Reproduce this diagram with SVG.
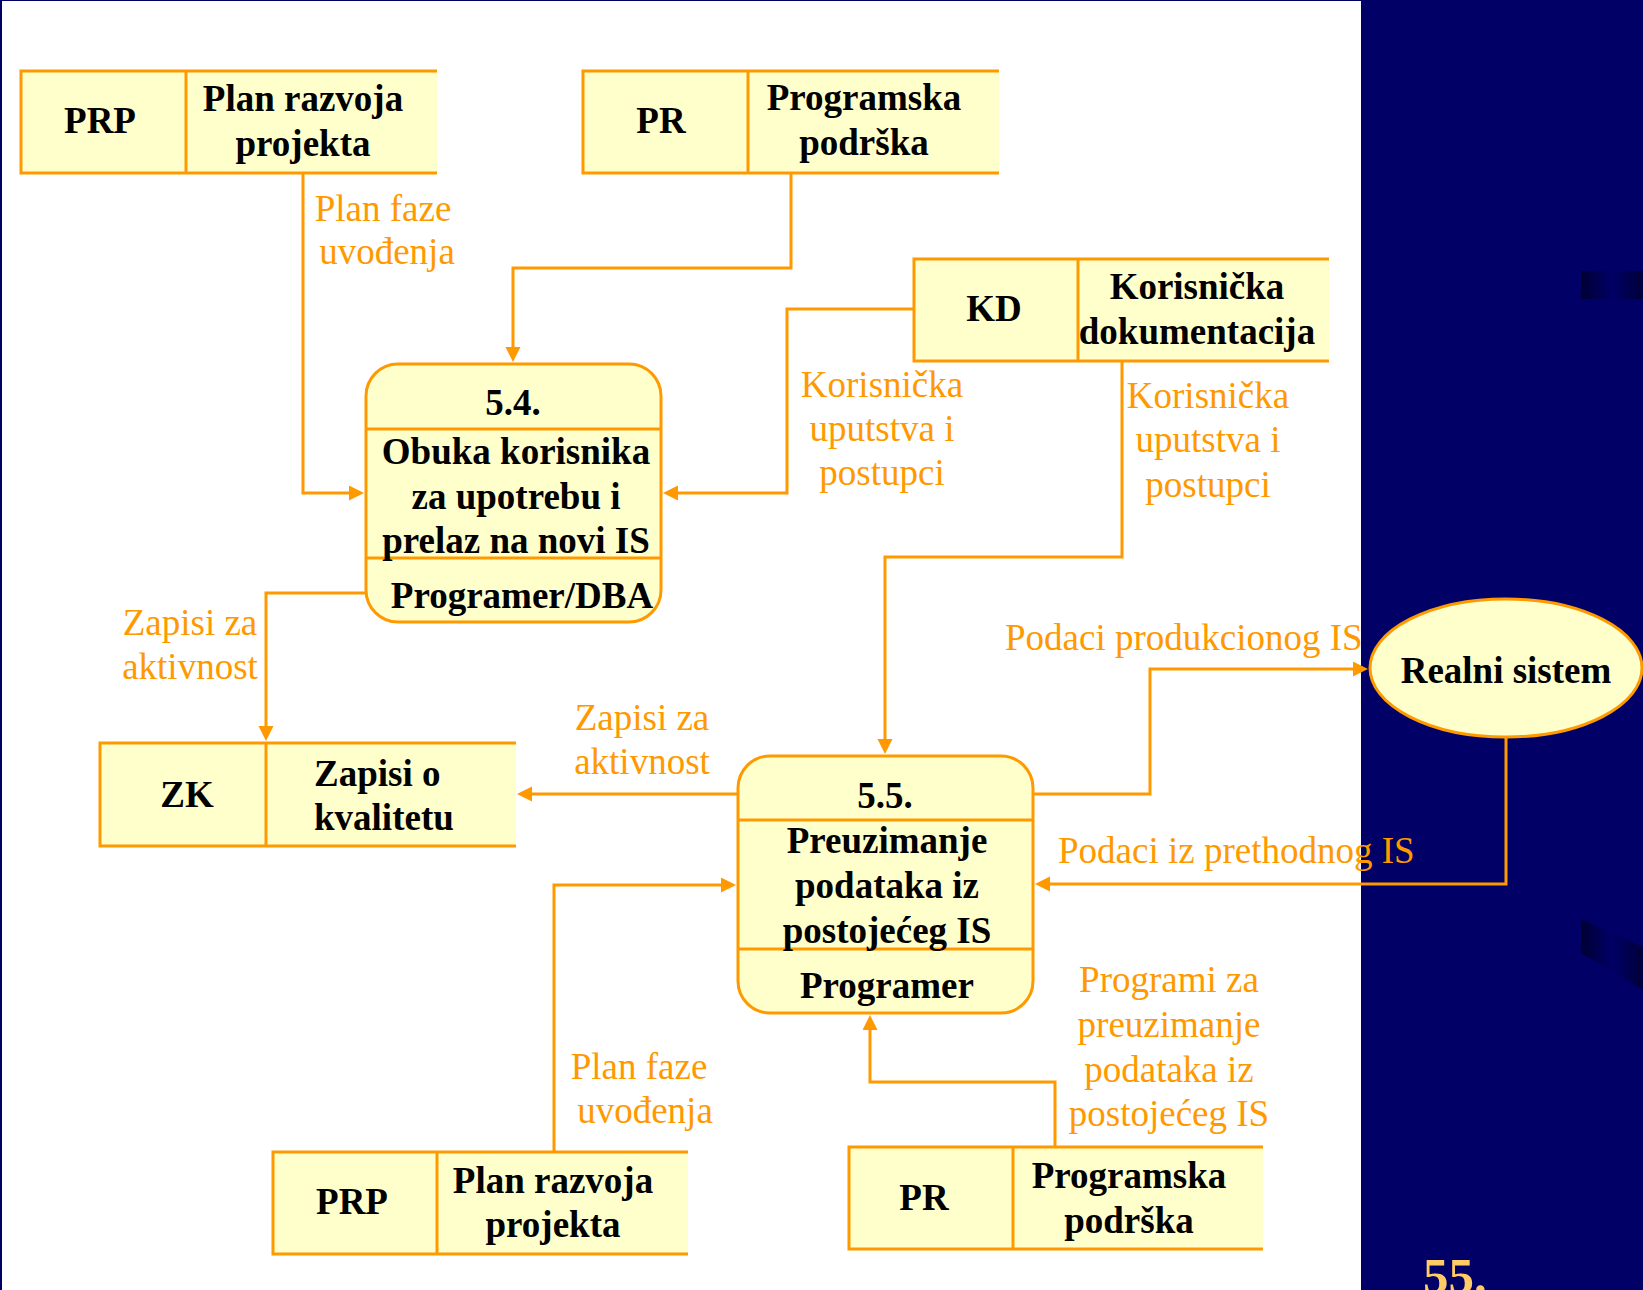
<svg xmlns="http://www.w3.org/2000/svg" width="1643" height="1290" viewBox="0 0 1643 1290">
<defs>
<style>
.box{fill:#FFFFCC;stroke:none}
.ln{fill:none;stroke:#FF9900;stroke-width:3}
.t{font-family:"Liberation Serif","Times New Roman",serif;font-size:37px;font-weight:bold;fill:#000;text-anchor:middle}
.lb{font-family:"Liberation Serif","Times New Roman",serif;font-size:37px;fill:#FF9900;text-anchor:middle}
.con{fill:none;stroke:#FF9900;stroke-width:3;marker-end:url(#ah)}
</style>
<marker id="ah" markerUnits="userSpaceOnUse" markerWidth="16" markerHeight="16" refX="11" refY="7.5" orient="auto">
<path d="M0,0 L15,7.5 L0,15 z" fill="#FF9900"/>
</marker>
<linearGradient id="dg" x1="0" y1="0" x2="1" y2="0">
<stop offset="0" stop-color="#000033"/>
<stop offset="0.5" stop-color="#000066"/>
<stop offset="1" stop-color="#00003a"/>
</linearGradient>
</defs>
<rect x="0" y="0" width="1643" height="1290" fill="#000066"/>
<rect x="2" y="1" width="1359" height="1289" fill="#FFFFFF"/>
<rect x="1581" y="271" width="62" height="28" fill="url(#dg)"/>
<path d="M1581,919 L1643,947 L1643,990 L1581,953 z" fill="url(#dg)"/>
<text x="1423" y="1293" style="font-family:'Liberation Serif',serif;font-size:51px;font-weight:bold;fill:#FFCC66">55.</text>

<g id="connectors">
<path class="con" d="M303,173 V493 H360"/>
<path class="con" d="M791,173 V268 H513 V358"/>
<path class="con" d="M914,309 H787 V493 H667"/>
<path class="con" d="M366,593 H266 V737"/>
<path class="con" d="M1122,361 V557 H885 V750"/>
<path class="con" d="M738,794 H521"/>
<path class="con" d="M1033,794 H1150 V669 H1364"/>
<path class="con" d="M1506,737 V884 H1039"/>
<path class="con" d="M554,1152 V885 H732"/>
<path class="con" d="M1055,1147 V1082 H870 V1019"/>
<text class="lb" x="383" y="221">Plan faze</text>
<text class="lb" x="387" y="264">uvođenja</text>
<text class="lb" x="882" y="397">Korisnička</text>
<text class="lb" x="882" y="441">uputstva i</text>
<text class="lb" x="882" y="485">postupci</text>
<text class="lb" x="1208" y="408">Korisnička</text>
<text class="lb" x="1208" y="452">uputstva i</text>
<text class="lb" x="1208" y="497">postupci</text>
<text class="lb" x="190" y="635">Zapisi za</text>
<text class="lb" x="190" y="679">aktivnost</text>
<text class="lb" x="642" y="730">Zapisi za</text>
<text class="lb" x="642" y="774">aktivnost</text>
<text class="lb" x="1005" y="650" style="text-anchor:start">Podaci produkcionog IS</text>
<text class="lb" x="1058" y="863" style="text-anchor:start">Podaci iz prethodnog IS</text>
<text class="lb" x="639" y="1079">Plan faze</text>
<text class="lb" x="645" y="1123">uvođenja</text>
<text class="lb" x="1169" y="992">Programi za</text>
<text class="lb" x="1169" y="1037">preuzimanje</text>
<text class="lb" x="1169" y="1082">podataka iz</text>
<text class="lb" x="1169" y="1126">postojećeg IS</text>
</g>

<g id="store-prp-top">
<rect class="box" x="21" y="71" width="416" height="102"/>
<path class="ln" d="M437,71 H21 V173 H437 M186,71 V173"/>
<text class="t" x="100" y="133">PRP</text>
<text class="t" x="303" y="111">Plan razvoja</text>
<text class="t" x="303" y="156">projekta</text>
</g>

<g id="store-pr-top">
<rect class="box" x="583" y="71" width="416" height="102"/>
<path class="ln" d="M999,71 H583 V173 H999 M748,71 V173"/>
<text class="t" x="661" y="133">PR</text>
<text class="t" x="864" y="110">Programska</text>
<text class="t" x="864" y="155">podrška</text>
</g>

<g id="store-kd">
<rect class="box" x="914" y="259" width="415" height="102"/>
<path class="ln" d="M1329,259 H914 V361 H1329 M1078,259 V361"/>
<text class="t" x="994" y="321">KD</text>
<text class="t" x="1197" y="299">Korisnička</text>
<text class="t" x="1197" y="344">dokumentacija</text>
</g>

<g id="process-54">
<rect x="366" y="364" width="295" height="258" rx="32" ry="32" fill="#FFFFCC" stroke="#FF9900" stroke-width="3"/>
<path class="ln" d="M366,429 H661 M366,558 H661"/>
<text class="t" x="513" y="415">5.4.</text>
<text class="t" x="516" y="464">Obuka korisnika</text>
<text class="t" x="516" y="509">za upotrebu i</text>
<text class="t" x="516" y="553">prelaz na novi IS</text>
<text class="t" x="522" y="608">Programer/DBA</text>
</g>

<g id="store-zk">
<rect class="box" x="100" y="743" width="416" height="103"/>
<path class="ln" d="M516,743 H100 V846 H516 M266,743 V846"/>
<text class="t" x="187" y="807">ZK</text>
<text class="t" x="314" y="786" style="text-anchor:start">Zapisi o</text>
<text class="t" x="314" y="830" style="text-anchor:start">kvalitetu</text>
</g>

<g id="process-55">
<rect x="738" y="756" width="295" height="257" rx="32" ry="32" fill="#FFFFCC" stroke="#FF9900" stroke-width="3"/>
<path class="ln" d="M738,820 H1033 M738,949 H1033"/>
<text class="t" x="885" y="808">5.5.</text>
<text class="t" x="887" y="853">Preuzimanje</text>
<text class="t" x="887" y="898">podataka iz</text>
<text class="t" x="887" y="943">postojećeg IS</text>
<text class="t" x="887" y="998">Programer</text>
</g>

<g id="entity-realni">
<ellipse cx="1506" cy="668" rx="136" ry="69" fill="#FFFFCC" stroke="#FF9900" stroke-width="3"/>
<text class="t" x="1506" y="683">Realni sistem</text>
</g>

<g id="store-prp-bottom">
<rect class="box" x="273" y="1152" width="415" height="102"/>
<path class="ln" d="M688,1152 H273 V1254 H688 M437,1152 V1254"/>
<text class="t" x="352" y="1214">PRP</text>
<text class="t" x="553" y="1193">Plan razvoja</text>
<text class="t" x="553" y="1237">projekta</text>
</g>

<g id="store-pr-bottom">
<rect class="box" x="849" y="1147" width="414" height="102"/>
<path class="ln" d="M1263,1147 H849 V1249 H1263 M1013,1147 V1249"/>
<text class="t" x="924" y="1210">PR</text>
<text class="t" x="1129" y="1188">Programska</text>
<text class="t" x="1129" y="1233">podrška</text>
</g>
</svg>
